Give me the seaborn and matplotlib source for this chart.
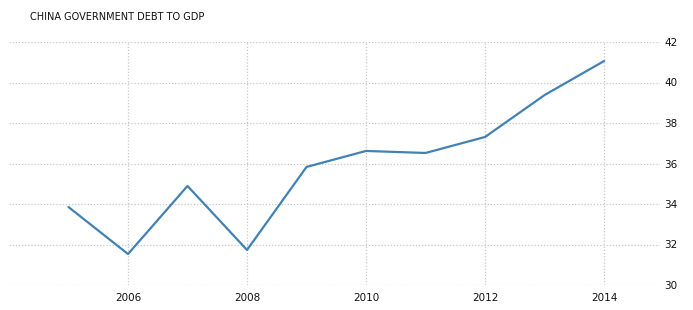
import matplotlib
matplotlib.use("Agg")
import matplotlib.pyplot as plt
import seaborn as sns
import pandas as pd

years = [2005, 2006, 2007, 2008, 2009, 2010, 2011, 2012, 2013, 2014]
debt_to_gdp = [33.85, 31.53, 34.89, 31.73, 35.83, 36.62, 36.52, 37.31, 39.38, 41.06]
x_ticks = [2006, 2008, 2010, 2012, 2014]
y_ticks = [30, 32, 34, 36, 38, 40, 42]
title = "CHINA GOVERNMENT DEBT TO GDP"

sns.set_theme(style="white")
plt.rcParams['font.family'] = ['DejaVu Sans']

df = pd.DataFrame({"year": years, "value": debt_to_gdp})

fig = plt.figure(figsize=(6.93, 3.10), dpi=100)
ax = fig.add_axes([9/693, 1 - 285/310, (660 - 9)/693, (285 - 42)/310])
sns.lineplot(data=df, x="year", y="value", ax=ax, color="#4182b4", linewidth=1.6)

ax.set_xlim(2004.0, 2014.94)
ax.set_ylim(30, 42)
ax.set_xticks(x_ticks)
ax.set_yticks(y_ticks)
ax.set_xticklabels([str(t) for t in x_ticks])
ax.set_yticklabels([str(t) for t in y_ticks])
ax.yaxis.tick_right()
ax.tick_params(axis="both", length=0, labelsize=7.5, colors="#111111")
ax.tick_params(axis="x", pad=6)
ax.tick_params(axis="y", pad=3)
ax.grid(True, linestyle=(0, (1, 1.5)), color="#c8c8c8", linewidth=0.9)
ax.set_axisbelow(True)
for s in ax.spines.values():
    s.set_visible(False)
ax.set_xlabel("")
ax.set_ylabel("")

fig.text(30/693, 1 - 17/310, title, fontsize=7.0, color="#111111", va="center", ha="left")

fig.savefig("out.png", dpi=100)
